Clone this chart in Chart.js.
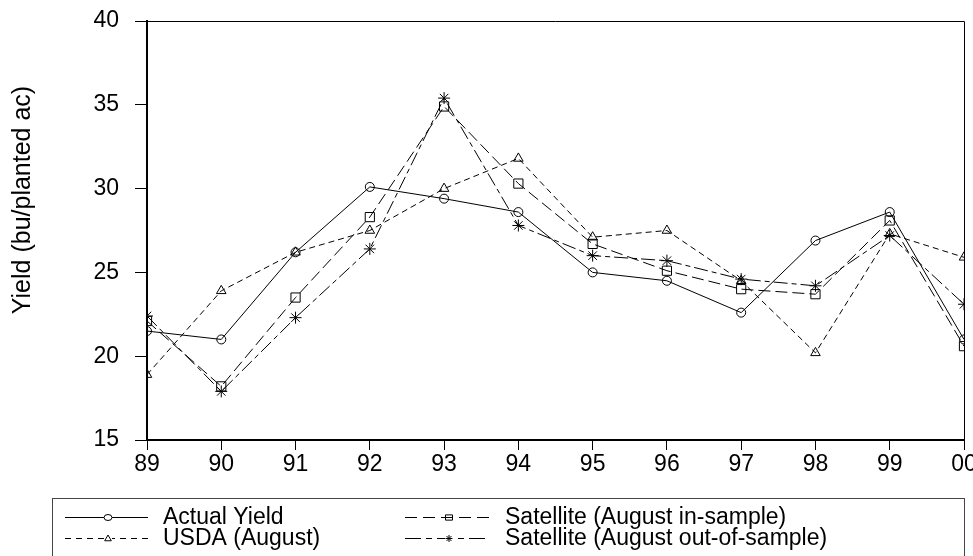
<!DOCTYPE html>
<html>
<head>
<meta charset="utf-8">
<title>Yield chart</title>
<script src="https://cdn.jsdelivr.net/npm/chart.js"></script>
<style>
  html, body { margin: 0; padding: 0; background: #fff; }
  #wrap { width: 973px; height: 556px; position: relative; }
</style>
</head>
<body>
<div id="wrap"><canvas id="yieldChart"></canvas></div>
<script>
// values
const years = ['89', '90', '91', '92', '93', '94', '95', '96', '97', '98', '99', '00'];
const actualYield = [21.5, 21.0, 26.2, 30.1, 29.4, 28.6, 25.0, 24.5, 22.6, 26.9, 28.6, 21.0];
const usdaAugust = [18.9, 23.9, 26.2, 27.5, 30.0, 31.8, 27.1, 27.5, 24.5, 20.2, 27.3, 25.9];
const satInSample = [22.1, 18.2, 23.5, 28.3, 34.9, 30.3, 26.7, 25.1, 24.0, 23.7, 28.1, 20.6];
const satOutSample = [22.4, 17.9, 22.3, 26.4, 35.4, 27.8, 26.0, 25.7, 24.6, 24.2, 27.2, 23.1];
const yTicks = [15, 20, 25, 30, 35, 40];

const FONT = "'Liberation Sans', Arial, sans-serif";

const series = [
    { label: 'Actual Yield', data: actualYield, dash: [], legendDash: [], point: 'circle', r: 4.5 },
    { label: 'USDA (August)', data: usdaAugust, dash: [6, 4], legendDash: [6, 5], point: 'triangle', r: 5.5 },
    { label: 'Satellite (August in-sample)', data: satInSample, dash: [12, 5], legendDash: [12, 6], point: 'rect', r: 6.5 },
    { label: 'Satellite (August out-of-sample)', data: satOutSample, dash: [14, 4, 5, 4], legendDash: [16, 5, 6, 5], point: 'star', r: 6 }
];

// small marker drawer for the legend
function drawMarker(ctx, style, x, y, r) {
    ctx.beginPath();
    if (style === 'circle') {
        ctx.ellipse(x, y, r + 0.5, r - 0.5, 0, 0, Math.PI * 2);
    } else if (style === 'triangle') {
        ctx.moveTo(x, y - r);
        ctx.lineTo(x + r * 0.95, y + r * 0.65);
        ctx.lineTo(x - r * 0.95, y + r * 0.65);
        ctx.closePath();
    } else if (style === 'rect') {
        ctx.rect(x - r, y - r * 0.75, r * 2, r * 1.5);
        ctx.moveTo(x - r, y);
        ctx.lineTo(x + r, y);
    } else if (style === 'star') {
        for (let i = 0; i < 4; i++) {
            const a = i * Math.PI / 4;
            ctx.moveTo(x - Math.cos(a) * r, y - Math.sin(a) * r);
            ctx.lineTo(x + Math.cos(a) * r, y + Math.sin(a) * r);
        }
    }
    ctx.stroke();
}

const framePlugin = {
    id: 'frame',
    afterDraw(chart) {
        const { ctx, chartArea: a } = chart;
        ctx.save();
        ctx.strokeStyle = '#000';
        ctx.lineWidth = 1;
        ctx.setLineDash([]);
        ctx.beginPath();
        ctx.moveTo(a.left, a.top + 0.5);
        ctx.lineTo(a.right + 0.5, a.top + 0.5);
        ctx.lineTo(a.right + 0.5, a.bottom);
        ctx.stroke();

        // y axis title
        ctx.fillStyle = '#000';
        ctx.font = '25px ' + FONT;
        ctx.textAlign = 'center';
        ctx.textBaseline = 'middle';
        ctx.translate(23, 200);
        ctx.rotate(-Math.PI / 2);
        ctx.fillText('Yield (bu/planted ac)', 0, 0);
        ctx.restore();
    }
};

const legendPlugin = {
    id: 'boxLegend',
    afterDraw(chart) {
        const ctx = chart.ctx;
        ctx.save();
        ctx.strokeStyle = '#444';
        ctx.lineWidth = 1;
        ctx.strokeRect(52.5, 498.5, 912, 80);

        const cols = [
            { x0: 65, x1: 148, mx: 108, tx: 163 },
            { x0: 405, x1: 490, mx: 449, tx: 505 }
        ];
        const rows = [517, 538];
        const order = [[0, 0, 0], [1, 0, 1], [2, 1, 0], [3, 1, 1]];
        ctx.font = '23px ' + FONT;
        ctx.textBaseline = 'middle';
        ctx.fillStyle = '#000';
        order.forEach(([si, ci, ri]) => {
            const s = series[si];
            const c = cols[ci];
            const y = rows[ri] + 0.5;
            ctx.strokeStyle = '#000';
            ctx.setLineDash(s.legendDash);
            ctx.beginPath();
            ctx.moveTo(c.x0, y);
            ctx.lineTo(c.x1, y);
            ctx.stroke();
            ctx.setLineDash([]);
            ctx.fillStyle = '#fff';
            ctx.fillRect(c.mx - 4, y - 4, 8, 8);
            ctx.fillStyle = '#000';
            drawMarker(ctx, s.point, c.mx, y, 3.5);
            ctx.fillText(s.label, c.tx, rows[ri] + 1);
        });
        ctx.restore();
    }
};

document.addEventListener('DOMContentLoaded', () => {
    const ctx = document.getElementById('yieldChart').getContext('2d');

    new Chart(ctx, {
        type: 'line',
        data: {
            labels: years,
            datasets: series.map(s => ({
                label: s.label,
                data: s.data,
                borderColor: '#000',
                borderWidth: 1,
                borderDash: s.dash,
                tension: 0,
                fill: false,
                clip: 1,
                pointStyle: s.point,
                pointRadius: s.r,
                pointBorderColor: '#000',
                pointBackgroundColor: 'rgba(0,0,0,0)',
                pointBorderWidth: 1
            }))
        },
        options: {
            responsive: true,
            maintainAspectRatio: false,
            animation: false,
            layout: { padding: { top: 21, right: 9, left: 0, bottom: 0 } },
            plugins: {
                legend: { display: false },
                tooltip: { enabled: false }
            },
            scales: {
                x: {
                    type: 'category',
                    offset: false,
                    grid: {
                        drawOnChartArea: false,
                        drawTicks: true,
                        tickLength: 10,
                        tickColor: '#000'
                    },
                    border: { color: '#000', width: 2 },
                    ticks: {
                        color: '#000',
                        font: { size: 23, family: FONT },
                        padding: 1,
                        maxRotation: 0,
                        autoSkip: false
                    },
                    afterFit(scale) {
                        scale.height = 116;
                        scale.paddingLeft = 0;
                        scale.paddingRight = 0;
                    }
                },
                y: {
                    min: 15,
                    max: 40,
                    afterBuildTicks(scale) {
                        scale.ticks = yTicks.map(v => ({ value: v }));
                    },
                    grid: {
                        drawOnChartArea: false,
                        drawTicks: true,
                        tickLength: 12,
                        tickColor: '#000'
                    },
                    border: { color: '#000', width: 2 },
                    ticks: {
                        color: '#000',
                        font: { size: 23, family: FONT },
                        padding: 16
                    },
                    afterFit(scale) {
                        scale.width = 147;
                        scale.paddingTop = 0;
                        scale.paddingBottom = 0;
                    }
                }
            }
        },
        plugins: [framePlugin, legendPlugin]
    });
});
</script>
</body>
</html>
